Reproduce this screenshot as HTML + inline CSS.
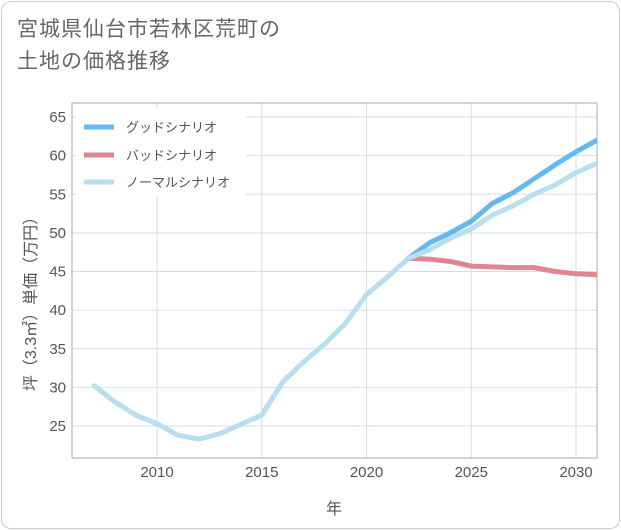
<!DOCTYPE html>
<html><head><meta charset="utf-8"><style>
body{margin:0;background:#fff;font-family:"Liberation Sans","Noto Sans CJK JP",sans-serif;}
#card{position:absolute;left:1px;top:1px;width:617px;height:526px;border:1px solid #ccc;border-radius:10px;background:#fff;}
#title{position:absolute;left:17px;top:14px;font-size:21px;line-height:32px;color:#666;letter-spacing:1px;}
</style></head><body>
<div id="card"></div>
<div id="title">宮城県仙台市若林区荒町の<br>土地の価格推移</div>
<svg id="chart" width="621" height="530" style="position:absolute;left:0;top:0"></svg>
<script>
const years=[2007,2008,2009,2010,2011,2012,2013,2014,2015,2016,2017,2018,2019,2020,2021,2022,2023,2024,2025,2026,2027,2028,2029,2030,2031];
const normalVals=[30.2,28.1,26.4,25.3,23.8,23.3,24.0,25.2,26.4,30.7,33.3,35.6,38.3,42.0,44.3,46.7,47.8,49.3,50.5,52.3,53.5,55.0,56.2,57.8,59.0];
const forecastYears=[2022,2023,2024,2025,2026,2027,2028,2029,2030,2031];
const goodVals=[46.7,48.7,50.0,51.5,53.8,55.2,57.0,58.8,60.5,62.0];
const badVals=[46.7,46.6,46.3,45.7,45.6,45.5,45.5,45.0,44.7,44.6];
const xTicks=[2010,2015,2020,2025,2030];
const yTicks=[25,30,35,40,45,50,55,60,65];
const svg=document.getElementById('chart');const NS='http://www.w3.org/2000/svg';
const L=72,R=597,T=103,B=458;
const x=v=>157+(v-2010)*(576-157)/20;
const y=v=>426-(v-25)*(426-117)/40;
function el(t,a,p){const e=document.createElementNS(NS,t);for(const k in a)e.setAttribute(k,a[k]);(p||svg).appendChild(e);return e;}
const grid=el('g',{});


for(const t of xTicks){el('line',{x1:x(t),x2:x(t),y1:T,y2:B,stroke:'#d5dde6','stroke-width':1},grid);
const tx=el('text',{x:x(t),y:B+19,'text-anchor':'middle','font-size':15,fill:'#555'});tx.textContent=t;

}
for(const t of yTicks){el('line',{x1:L,x2:R,y1:y(t),y2:y(t),stroke:'#d5dde6','stroke-width':1},grid);
const tx=el('text',{x:L-6,y:y(t)+5,'text-anchor':'end','font-size':15,fill:'#555'});tx.textContent=t;

}
const frame=el('rect',{x:L,y:T,width:R-L,height:B-T,fill:'none',stroke:'#aaa','stroke-width':1});


const clip=el('clipPath',{id:'c'});el('rect',{x:L,y:T,width:R-L,height:B-T},clip);
function line(xs,vs,color,name){const p=el('polyline',{points:xs.map((t,i)=>x(t)+','+y(vs[i])).join(' '),fill:'none',stroke:color,'stroke-width':5,'stroke-linejoin':'round','stroke-linecap':'round','clip-path':'url(#c)'});

}
line(years,normalVals,'#b8def0','normal-scenario-line');
line(forecastYears,badVals,'#e0868f','bad-scenario-line');
line(forecastYears,goodVals,'#66b8f0','good-scenario-line');
line(forecastYears.slice(0,2),normalVals.slice(15,17),'#b8def0','normal-scenario-line-overlay');
const leg=el('g',{});


el('rect',{x:76,y:110,width:170,height:86,fill:'#fff'},leg);
[['グッドシナリオ','#66b8f0',127],['バッドシナリオ','#e0868f',155],['ノーマルシナリオ','#b8def0',182]].forEach(([n,c,yy])=>{
el('line',{x1:84,x2:114,y1:yy,y2:yy,stroke:c,'stroke-width':5},leg);
const t=el('text',{x:126,y:yy+5,'font-size':13,fill:'#555'},leg);t.textContent=n;

});
const xt=el('text',{x:334,y:514,'text-anchor':'middle','font-size':16,fill:'#555'});xt.textContent='年';


const yt=el('text',{x:0,y:0,'text-anchor':'middle','font-size':16,fill:'#555',transform:'translate(36,300) rotate(-90)'});yt.textContent='坪（3.3㎡）単価（万円）';


</script></body></html>
